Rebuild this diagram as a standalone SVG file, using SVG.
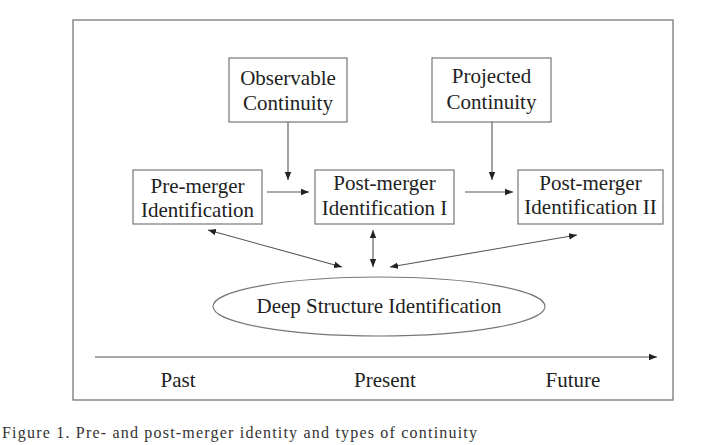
<svg xmlns="http://www.w3.org/2000/svg" width="726" height="445" viewBox="0 0 726 445">
<defs>
<marker id="ah" viewBox="0 0 10 10" refX="10" refY="5" markerWidth="8" markerHeight="8" markerUnits="userSpaceOnUse" orient="auto-start-reverse">
<path d="M0,1 L10,5 L0,9 Z" fill="#222"/>
</marker>
<style>
.box{fill:#fff;stroke:#777;stroke-width:1.2}
.t{font-family:'Liberation Serif','Tinos','DejaVu Serif','Noto Serif',serif;font-size:21px;fill:#222;text-anchor:middle}
.c{stroke:#555;stroke-width:1.1;fill:none}
.cap{font-family:'Liberation Serif','Tinos','DejaVu Serif','Noto Serif',serif;font-size:16px;fill:#333}
</style>
</defs>
<rect x="0" y="0" width="726" height="445" fill="#fff"/>
<rect x="73" y="20" width="600" height="380" fill="none" stroke="#777" stroke-width="1.3"/>
<g id="observable"><rect class="box" x="229" y="58" width="118" height="64"/><text class="t" x="288" y="85">Observable</text><text class="t" x="288" y="110">Continuity</text></g>
<g id="projected"><rect class="box" x="432" y="58" width="119" height="64"/><text class="t" x="491.5" y="83">Projected</text><text class="t" x="491.5" y="109">Continuity</text></g>
<g id="pre"><rect class="box" x="133" y="170" width="129" height="54"/><text class="t" x="197.5" y="193">Pre-merger</text><text class="t" x="197.5" y="217">Identification</text></g>
<g id="post1"><rect class="box" x="315" y="170" width="139" height="54"/><text class="t" x="384.5" y="190">Post-merger</text><text class="t" x="384.5" y="215">Identification I</text></g>
<g id="post2"><rect class="box" x="518" y="170" width="145" height="54"/><text class="t" x="590.5" y="190">Post-merger</text><text class="t" x="590.5" y="214">Identification II</text></g>
<g id="deep"><ellipse cx="379" cy="306.5" rx="166" ry="29.5" fill="#fff" stroke="#777" stroke-width="1.1"/><text class="t" x="379" y="313">Deep Structure Identification</text></g>
<g id="connectors">
<line class="c" x1="288" y1="122" x2="288" y2="180" marker-end="url(#ah)"/>
<line class="c" x1="492" y1="122" x2="492" y2="180" marker-end="url(#ah)"/>
<line class="c" x1="267" y1="192" x2="309" y2="192" marker-end="url(#ah)"/>
<line class="c" x1="465" y1="192" x2="513" y2="192" marker-end="url(#ah)"/>
<line class="c" x1="208" y1="230" x2="342" y2="267" marker-start="url(#ah)" marker-end="url(#ah)"/>
<line class="c" x1="373" y1="230" x2="373" y2="267" marker-start="url(#ah)" marker-end="url(#ah)"/>
<line class="c" x1="577" y1="235" x2="390" y2="267" marker-start="url(#ah)" marker-end="url(#ah)"/>
<line class="c" x1="95" y1="357" x2="657" y2="357" marker-end="url(#ah)"/>
</g>
<g id="timeline-labels">
<text class="t" x="178" y="387">Past</text>
<text class="t" x="385" y="387">Present</text>
<text class="t" x="573" y="387">Future</text>
</g>
<text class="cap" x="2" y="438" textLength="475" lengthAdjust="spacing">Figure 1.  Pre- and post-merger identity and types of continuity</text>
</svg>
